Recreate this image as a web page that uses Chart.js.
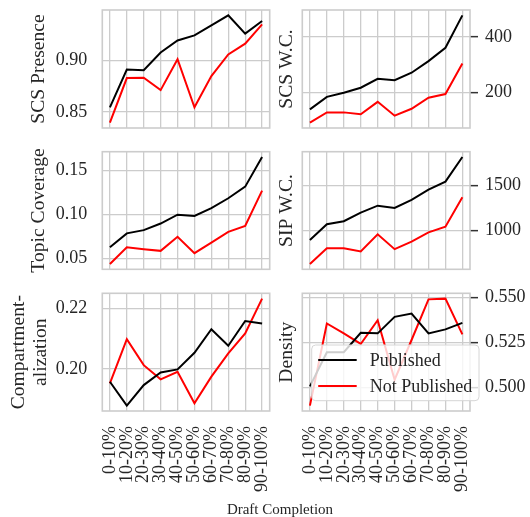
<!DOCTYPE html>
<html>
<head>
<meta charset="utf-8">
<script src="https://cdn.jsdelivr.net/npm/chart.js@4.4.1/dist/chart.umd.min.js"></script>
<style>
  body { margin: 0; background: #fff; }
  #wrap { position: relative; width: 530px; height: 517px; overflow: hidden; }
  canvas { position: absolute; }
  #xlabel { position: absolute; left: 180px; width: 200px; top: 502px; text-align: center;
    font: 15px "Liberation Serif", serif; color: #262626; line-height: 15px; }
</style>
</head>
<body>
<div id="wrap">
  <canvas id="c1" width="272" height="140" style="left:0;top:0"></canvas>
  <canvas id="c2" width="260" height="140" style="left:270px;top:0"></canvas>
  <canvas id="c3" width="272" height="140" style="left:0;top:140px"></canvas>
  <canvas id="c4" width="260" height="140" style="left:270px;top:140px"></canvas>
  <canvas id="c5" width="272" height="235" style="left:0;top:282px"></canvas>
  <canvas id="c6" width="260" height="235" style="left:270px;top:282px"></canvas>
  <div id="xlabel">Draft Completion</div>
</div>
<script>
const categories = ['0-10%', '10-20%', '20-30%', '30-40%', '40-50%', '50-60%', '60-70%', '70-80%', '80-90%', '90-100%'];
const seriesNames = ['Published', 'Not Published'];

const scsPresencePublished = [0.8545, 0.891, 0.8904, 0.9074, 0.919, 0.924, 0.9337, 0.9433, 0.9257, 0.9378];
const scsPresenceNotPublished = [0.8397, 0.8827, 0.883, 0.8711, 0.901, 0.8545, 0.8846, 0.9055, 0.916, 0.9346];
const scsPresenceTicks = ['0.85', '0.90'];

const scsWcPublished = [139, 184, 199, 217, 249, 244, 271, 313, 361, 478];
const scsWcNotPublished = [91, 128, 128, 121, 166, 116, 141, 181, 194, 304];
const scsWcTicks = ['200', '400'];

const topicPublished = [0.0626, 0.0783, 0.082, 0.0895, 0.0996, 0.0981, 0.1071, 0.1183, 0.1315, 0.1652];
const topicNotPublished = [0.0435, 0.0626, 0.0603, 0.0584, 0.0745, 0.0558, 0.0678, 0.0801, 0.0869, 0.127];
const topicTicks = ['0.05', '0.10', '0.15'];

const sipWcPublished = [898, 1073, 1106, 1201, 1278, 1252, 1343, 1456, 1544, 1817];
const sipWcNotPublished = [632, 807, 807, 770, 960, 796, 880, 982, 1044, 1372];
const sipWcTicks = ['1000', '1500'];

const compPublished = [0.1958, 0.1879, 0.1947, 0.1989, 0.1999, 0.2054, 0.2132, 0.2077, 0.2159, 0.2151];
const compNotPublished = [0.1953, 0.2099, 0.2013, 0.1966, 0.1991, 0.1887, 0.1975, 0.2052, 0.2118, 0.2233];
const compTicks = ['0.20', '0.22'];

const densityPublished = [0.5007, 0.5197, 0.5197, 0.5305, 0.5302, 0.5394, 0.5412, 0.5302, 0.5324, 0.536];
const densityNotPublished = [0.490, 0.5357, 0.5302, 0.5243, 0.5375, 0.5044, 0.5265, 0.5491, 0.5495, 0.5296];
const densityTicks = ['0.500', '0.525', '0.550'];

const FONT = '"Liberation Serif", "Times New Roman", serif';
const TEXT = '#262626';
const GRID = '#cccccc';

// full box around the plot area (spines)
const framePlugin = {
  id: 'frame',
  afterDatasetsDraw(chart) {
    const a = chart.chartArea, ctx = chart.ctx;
    ctx.save();
    ctx.strokeStyle = GRID;
    ctx.lineWidth = 1.6;
    ctx.strokeRect(a.left, a.top, a.right - a.left, a.bottom - a.top);
    ctx.restore();
  }
};

// legend drawn inside the density panel
const insideLegend = {
  id: 'insideLegend',
  afterDraw(chart) {
    const a = chart.chartArea, ctx = chart.ctx;
    const x0 = a.left + 9.4, x1 = a.right + 9, y1 = a.bottom - 10.3, y0 = y1 - 55.7;
    ctx.save();
    ctx.beginPath();
    ctx.roundRect(x0, y0, x1 - x0, y1 - y0, 4);
    ctx.fillStyle = 'rgba(255,255,255,0.8)';
    ctx.fill();
    ctx.strokeStyle = '#d6d6d6';
    ctx.lineWidth = 1;
    ctx.stroke();
    chart.data.datasets.forEach((ds, i) => {
      const y = y0 + 15 + i * 26;
      ctx.strokeStyle = ds.borderColor;
      ctx.lineWidth = 2;
      ctx.beginPath();
      ctx.moveTo(x0 + 6.5, y);
      ctx.lineTo(x0 + 45, y);
      ctx.stroke();
      ctx.fillStyle = TEXT;
      ctx.font = '18px ' + FONT;
      ctx.textBaseline = 'middle';
      ctx.fillText(ds.label, x0 + 58, y + 1);
    });
    ctx.restore();
  }
};

function noPad(s) {
  s.paddingTop = 0; s.paddingBottom = 0; s.paddingLeft = 0; s.paddingRight = 0;
}

function makePanel(id, p) {
  const right = p.side === 'right';
  const all = p.published.concat(p.notPublished);
  const lo = Math.min(...all), hi = Math.max(...all), m = (hi - lo) * 0.05;
  const titleFont = { family: FONT, size: 19.6, lineHeight: 1.1 };

  const scales = {
    x: {
      type: 'linear', min: -0.45, max: 9.45,
      afterBuildTicks: s => { s.ticks = categories.map((c, i) => ({ value: i })); },
      ticks: {
        display: p.showX, autoSkip: false, minRotation: 90, maxRotation: 90,
        padding: 15, color: TEXT, font: { family: FONT, size: 18 },
        callback: v => categories[v]
      },
      grid: { color: GRID, lineWidth: 1.3, drawTicks: false },
      border: { display: false },
      afterFit: s => { s.height = p.xHeight; noPad(s); }
    },
    y: {
      position: right ? 'right' : 'left',
      min: lo - m, max: hi + m,
      afterBuildTicks: s => { s.ticks = p.ticks.map(t => ({ value: Number(t) })); },
      ticks: {
        padding: right ? 7 : 15, color: TEXT, font: { family: FONT, size: 18 },
        callback: (v, i) => p.ticks[i]
      },
      grid: { color: GRID, lineWidth: 1.3, drawTicks: right, tickLength: 8, tickColor: '#333333', tickWidth: 1.5 },
      border: { display: false },
      title: right ? { display: false } :
        { display: true, text: p.label, color: TEXT, font: titleFont, padding: { top: p.titlePad, bottom: 0 } },
      afterFit: s => { s.width = right ? 60 : 102.3; noPad(s); }
    }
  };
  if (right) {
    // label sits on the left while the ticks are on the right
    scales.yl = {
      position: 'left', min: 0, max: 1,
      ticks: { display: false },
      grid: { display: false, drawTicks: false },
      border: { display: false },
      title: { display: true, text: p.label, color: TEXT, font: titleFont, padding: { top: p.titlePad, bottom: 0 } },
      afterFit: s => { s.width = 32.3; noPad(s); }
    };
  }

  const plugins = [framePlugin];
  if (p.legend) plugins.push(insideLegend);

  return new Chart(document.getElementById(id), {
    type: 'line',
    data: {
      datasets: [
        { label: seriesNames[0], data: p.published.map((v, i) => ({ x: i, y: v })), borderColor: '#000000', borderWidth: 2, pointRadius: 0, tension: 0 },
        { label: seriesNames[1], data: p.notPublished.map((v, i) => ({ x: i, y: v })), borderColor: '#ff0000', borderWidth: 2, pointRadius: 0, tension: 0 }
      ]
    },
    options: {
      responsive: false,
      animation: false,
      layout: { padding: { top: p.padTop, right: right ? 0 : 2.3, left: 0, bottom: 0 } },
      plugins: { legend: { display: false }, tooltip: { enabled: false } },
      scales: scales
    },
    plugins: plugins
  });
}

makePanel('c1', { side: 'left', label: 'SCS Presence', published: scsPresencePublished, notPublished: scsPresenceNotPublished, ticks: scsPresenceTicks, padTop: 10, xHeight: 12, showX: false, titlePad: 28.2 });
makePanel('c2', { side: 'right', label: 'SCS W.C.', published: scsWcPublished, notPublished: scsWcNotPublished, ticks: scsWcTicks, padTop: 10, xHeight: 12, showX: false, titlePad: 5.9 });
makePanel('c3', { side: 'left', label: 'Topic Coverage', published: topicPublished, notPublished: topicNotPublished, ticks: topicTicks, padTop: 11.7, xHeight: 10.7, showX: false, titlePad: 28.2 });
makePanel('c4', { side: 'right', label: 'SIP W.C.', published: sipWcPublished, notPublished: sipWcNotPublished, ticks: sipWcTicks, padTop: 11.7, xHeight: 10.7, showX: false, titlePad: 5.9 });
makePanel('c5', { side: 'left', label: ['Compartment-', 'alization'], published: compPublished, notPublished: compNotPublished, ticks: compTicks, padTop: 11.3, xHeight: 106, showX: true, titlePad: 8.2 });
makePanel('c6', { side: 'right', label: 'Density', published: densityPublished, notPublished: densityNotPublished, ticks: densityTicks, padTop: 11.3, xHeight: 106, showX: true, titlePad: 5.9, legend: true });
</script>
</body>
</html>
